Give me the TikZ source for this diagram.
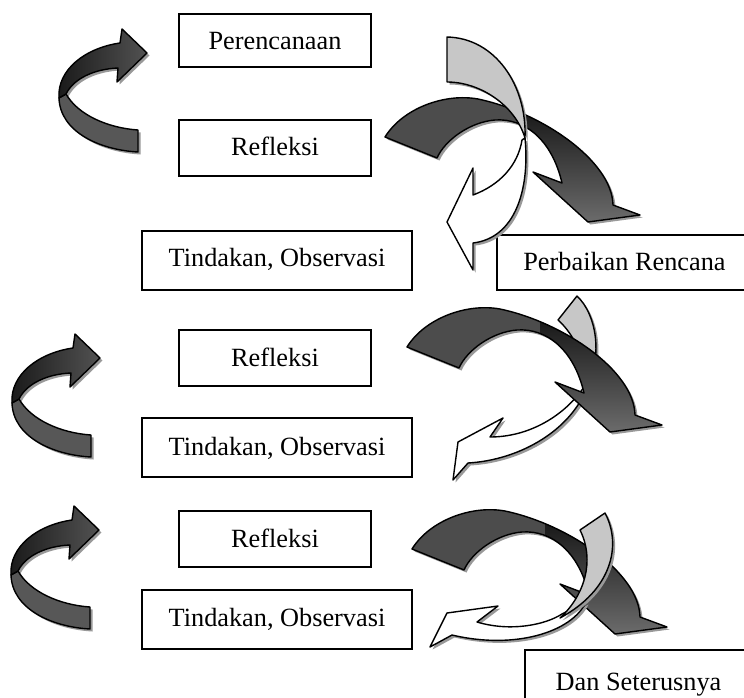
\documentclass[tikz,border=0pt]{standalone}
\usepackage{fontspec}
\setmainfont{Liberation Serif}
\def\pDark{(385,137) .. controls (403,108) and (445,93) .. (478,99) .. controls (540,112) and (612,160) .. (613,205) -- (640,215) -- (588,222) -- (533,172) -- (562,183) .. controls (552,140) and (525,118) .. (495,120) .. controls (470,122) and (445,140) .. (437,158) -- cycle}
\def\pLA{(59,98) .. controls (57,70) and (85,48) .. (120,43) -- (122,29) -- (147,53) -- (117,82) -- (118,68) .. controls (95,69) and (74,78) .. (66,94) -- cycle}
\def\pLB{(66,94) .. controls (78,115) and (108,128) .. (138,130) -- (138,152) .. controls (100,150) and (60,132) .. (59,98) -- cycle}
\tikzset{
  box/.style={draw=black, line width=1.5pt, fill=white, inner sep=0pt, text height=18pt, font=\fontsize{26.3}{30}\selectfont},
  outl/.style={draw=black, line width=1.4pt, line join=round},
  shd/.style={fill=black!40, xshift=2.5pt, yshift=-2.5pt},
  withshadow/.style={preaction={fill=black!40, transform canvas={xshift=2.5pt, yshift=-2.5pt}}},
  lightband/.style={outl, fill=black!22, withshadow},
  whiteband/.style={outl, fill=white, withshadow},
}
\newcommand\DarkArrow{%
  \fill[shd] \pDark;
  \begin{scope}
    \clip \pDark;
    \fill[black!70] (370,80) rectangle (670,240);
    \shade[top color=black!95, bottom color=black!55] (518,95) rectangle (670,232);
  \end{scope}
  \draw[outl] \pDark;
}
\newcommand\LeftArrow{%
  \fill[shd] \pLA;
  \fill[shd] \pLB;
  \filldraw[outl, fill=black!66] \pLB;
  \shadedraw[outl, left color=black!90, right color=black!68] \pLA;
}
\begin{document}
\begin{tikzpicture}[x=1pt, y=-1pt]
\useasboundingbox (0,0) rectangle (744,698);
\clip (0,0) rectangle (744,698);
\fill[white] (0,0) rectangle (744,698);

% boxes
\node[box, minimum width=192pt, minimum height=53pt, text depth=0.4pt] (perenc) at (275,40.5) {Perencanaan};
\node[box, minimum width=192pt, minimum height=56pt, text depth=4pt] (refl1) at (275,148) {Refleksi};
\node[box, minimum width=270pt, minimum height=59pt, text depth=7pt] (tind1) at (277,260.5) {Tindakan, Observasi};
\node[box, minimum width=255pt, minimum height=55pt, text depth=3pt] (perb) at (624.5,262.5) {Perbaikan Rencana};
\node[box, minimum width=192pt, minimum height=56pt, text depth=2pt] (refl2) at (275,358) {Refleksi};
\node[box, minimum width=270pt, minimum height=59pt, text depth=3pt] (tind2) at (277,447.5) {Tindakan, Observasi};
\node[box, minimum width=192pt, minimum height=56pt, text depth=2pt] (refl3) at (275,539) {Refleksi};
\node[box, minimum width=270pt, minimum height=59pt, text depth=3.6pt] (tind3) at (277,619.5) {Tindakan, Observasi};
\node[box, minimum width=227pt, minimum height=62pt, text depth=0pt] (dan) at (638.5,681) {Dan Seterusnya};

% left curved arrows
\LeftArrow
\begin{scope}[shift={(-47,305)}]\LeftArrow\end{scope}
\begin{scope}[shift={(-48,477)}]\LeftArrow\end{scope}

% group 1
\DarkArrow
\path[lightband] (447,37) .. controls (495,38) and (527,85) .. (525,138) .. controls (515,105) and (480,82) .. (447,82) -- cycle;
\path[whiteband] (525,138) .. controls (530,190) and (515,238) .. (473,243) -- (473,270) -- (447,222) -- (473,168) -- (473,195) .. controls (500,185) and (518,165) .. (522,140) -- cycle;

% group 2
\path[lightband] (558,320) -- (577,296) .. controls (597,315) and (602,355) .. (588,385) .. controls (585,360) and (575,335) .. (558,320) -- cycle;
\path[whiteband] (588,385) .. controls (572,430) and (520,460) .. (468,463) -- (453,480) -- (458,442) -- (503,418) -- (490,437) .. controls (530,437) and (565,415) .. (584,387) -- cycle;
\begin{scope}[shift={(22,210)}]\DarkArrow\end{scope}

% group 3
\begin{scope}[shift={(27,412)}]\DarkArrow\end{scope}
\path[whiteband] (586,602) .. controls (572,632) and (515,650) .. (452,635) -- (430,647) -- (447,613) -- (498,606) -- (477,622) .. controls (510,632) and (545,625) .. (562,614) -- cycle;
\path[lightband] (580,530) -- (605,513) .. controls (622,545) and (612,590) .. (560,618) .. controls (585,595) and (595,560) .. (580,530) -- cycle;
\end{tikzpicture}
\end{document}
